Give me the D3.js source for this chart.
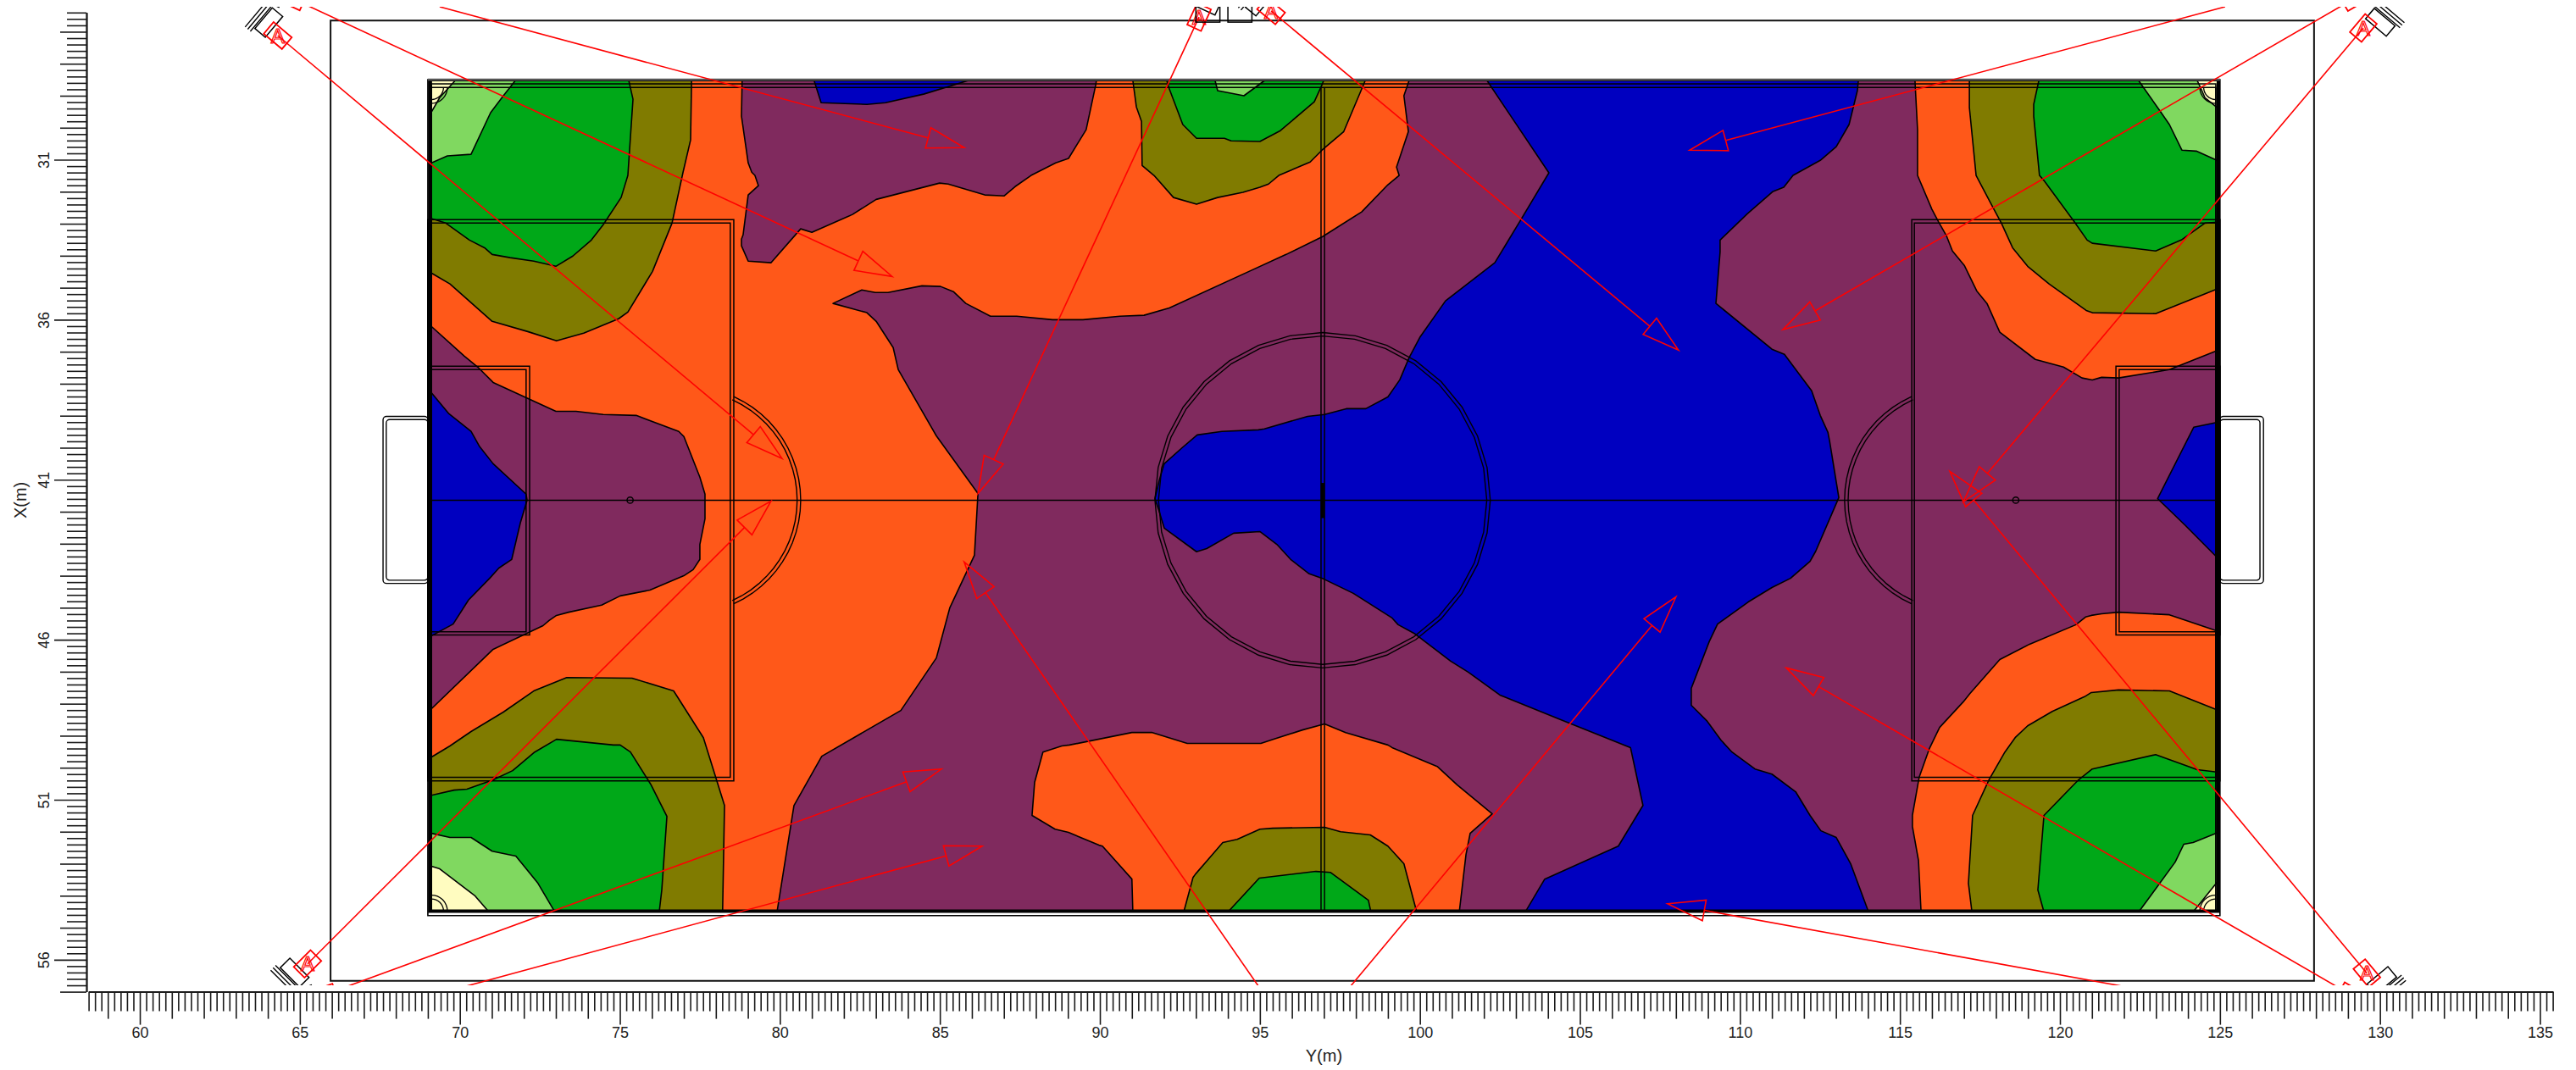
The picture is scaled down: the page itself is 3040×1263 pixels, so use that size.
<!DOCTYPE html>
<html><head><meta charset="utf-8">
<script src="https://cdn.jsdelivr.net/npm/d3@7/dist/d3.min.js"></script>
<style>html,body{margin:0;padding:0;background:#fff}svg{display:block}text{font-family:"Liberation Sans",Arial,sans-serif;fill:#222}</style>
</head><body>
<script>
// ---------- Tick labels / axis domains ----------
const xDomain=[58.4,135.4], yDomain=[26.4,57.0];
const xLabelled=[60,65,70,75,80,85,90,95,100,105,110,115,120,125,130,135];
const yLabelled=[31,36,41,46,51,56];
const xName="Y(m)", yName="X(m)";
// ---------- Contour bands (pitch metres: [Y, X]) ----------
const fieldBand=[[69.11,28.53],[124.95,28.53],[124.95,54.51],[69.11,54.51]];
const orangeLeft=[[69.11,28.53],[99.66,28.53],[99.50,29.00],[99.64,30.12],[99.27,31.23],[99.35,31.49],[99.00,31.78],[98.18,32.63],[96.96,33.40],[95.82,33.96],[94.66,34.49],[92.17,35.63],[91.38,35.86],[90.63,35.89],[89.47,36.00],[88.52,36.00],[87.40,35.89],[86.58,35.89],[85.81,35.49],[85.42,35.12],[85.02,34.96],[84.44,34.94],[83.38,35.15],[82.98,35.15],[82.56,35.07],[81.66,35.49],[82.72,35.78],[83.01,36.05],[83.54,36.87],[83.70,37.56],[84.89,39.63],[86.19,41.43],[86.08,43.36],[85.31,45.00],[84.89,46.57],[83.78,48.21],[81.31,49.64],[80.44,51.18],[79.91,54.51],[69.11,54.51]];
const purpleTop=[[78.82,28.53],[78.80,29.64],[79.01,31.10],[79.12,31.39],[79.22,31.49],[79.33,31.81],[79.01,32.10],[78.85,33.35],[78.80,33.48],[78.80,33.69],[79.01,34.17],[79.72,34.22],[80.65,33.16],[81.00,33.27],[82.27,32.71],[83.01,32.24],[84.99,31.73],[85.26,31.76],[86.40,32.10],[87.01,32.13],[87.35,31.84],[87.85,31.49],[88.62,31.10],[89.02,30.96],[89.57,30.06],[89.87,28.66],[89.89,28.53]];
const blueTop=[[81.07,28.53],[81.29,29.22],[82.72,29.27],[83.30,29.22],[84.49,28.95],[85.87,28.53]];
const purpleLeft=[[69.11,36.21],[70.14,37.14],[70.56,37.48],[71.04,37.96],[73.00,38.86],[73.63,38.86],[74.48,38.96],[75.51,38.99],[76.84,39.49],[77.00,39.65],[77.50,40.92],[77.66,41.45],[77.66,42.22],[77.50,43.02],[77.50,43.49],[77.29,43.81],[77.00,44.00],[75.94,44.45],[75.01,44.63],[74.43,44.92],[73.40,45.14],[73.02,45.24],[72.79,45.40],[72.60,45.56],[71.04,46.30],[69.11,48.16]];
const blueLeft=[[69.11,38.28],[69.66,38.94],[70.35,39.49],[70.62,39.97],[71.04,40.50],[72.07,41.45],[72.10,41.64],[71.89,42.35],[71.62,43.49],[71.22,43.76],[70.93,44.08],[70.27,44.76],[69.79,45.51],[69.11,45.88]];
const oliveTL=[[77.24,28.53],[77.21,30.38],[76.97,31.41],[76.63,32.98],[76.02,34.49],[75.25,35.76],[74.96,35.97],[73.87,36.42],[73.02,36.66],[72.12,36.37],[71.01,36.05],[69.69,34.88],[69.11,34.54],[69.11,28.53]];
const greenTL=[[75.28,28.53],[75.41,29.11],[75.25,31.49],[75.04,32.18],[74.48,33.03],[74.11,33.51],[73.53,34.01],[73.00,34.33],[72.31,34.17],[71.57,34.06],[71.01,33.96],[70.77,33.75],[70.30,33.51],[69.56,32.98],[69.11,32.84],[69.11,28.53]];
const lightTL=[[71.73,28.53],[71.36,29.00],[70.96,29.53],[70.35,30.83],[69.61,30.88],[69.11,31.10],[69.11,28.53]];
const creamTL=[[69.85,28.53],[69.37,29.06],[69.11,29.51],[69.11,28.53]];
const oliveBL=[[69.11,49.67],[69.69,49.32],[70.35,48.87],[71.36,48.26],[72.31,47.60],[73.34,47.18],[75.38,47.20],[76.68,47.60],[77.61,49.06],[78.27,51.18],[78.21,54.51],[69.11,54.51]];
const greenBL=[[69.11,50.86],[69.82,50.70],[70.22,50.67],[71.04,50.38],[71.65,50.09],[72.34,49.51],[73.02,49.11],[74.80,49.29],[75.01,49.29],[75.33,49.51],[75.96,50.51],[76.47,51.52],[76.31,53.82],[76.23,54.51],[69.11,54.51]];
const lightBL=[[69.11,52.05],[69.69,52.18],[70.35,52.18],[71.01,52.61],[71.75,52.76],[72.44,53.61],[72.97,54.51],[69.11,54.51]];
const creamBL=[[69.11,53.08],[69.37,53.16],[70.48,54.01],[70.91,54.51],[69.11,54.51]];
const oliveTop=[[91.03,28.53],[91.14,29.35],[91.30,29.80],[91.32,31.18],[91.69,31.49],[92.30,32.18],[93.02,32.39],[93.68,32.18],[94.47,32.02],[95.00,31.86],[95.27,31.76],[95.59,31.49],[96.57,31.07],[96.94,30.70],[97.62,30.12],[98.29,28.53]];
const greenTop=[[92.09,28.53],[92.17,28.79],[92.59,29.90],[93.02,30.33],[93.89,30.33],[94.10,30.41],[95.00,30.43],[95.64,30.09],[96.70,29.19],[96.94,28.66],[96.99,28.53]];
const lightTop=[[93.60,28.53],[93.68,28.84],[94.50,29.00],[95.14,28.53]];
const orangeBottom=[[88.22,49.51],[88.81,49.32],[89.05,49.29],[91.00,48.90],[91.64,48.90],[92.73,49.24],[95.03,49.24],[95.43,49.11],[96.33,48.82],[97.02,48.63],[97.68,48.90],[99.00,49.29],[99.13,49.37],[100.54,49.96],[101.17,50.54],[102.26,51.44],[101.57,52.05],[101.44,52.71],[101.23,54.51],[91.03,54.51],[91.00,53.48],[90.08,52.45],[89.97,52.42],[89.02,52.02],[88.60,51.92],[87.88,51.49],[87.96,50.46]];
const oliveBottom=[[92.62,54.51],[92.91,53.43],[92.99,53.32],[93.84,52.34],[94.29,52.24],[95.00,51.92],[95.40,51.89],[97.02,51.86],[97.52,52.00],[98.45,52.10],[99.00,52.45],[99.50,53.00],[99.90,54.51]];
const greenBottom=[[94.00,54.51],[94.98,53.45],[96.75,53.24],[97.20,53.27],[98.39,54.14],[98.47,54.51]];
const blueCentre=[[102.10,28.53],[113.70,28.53],[113.67,28.84],[113.41,29.90],[113.01,30.59],[112.51,31.02],[111.66,31.49],[111.37,31.86],[111.02,32.00],[110.23,32.69],[109.38,33.51],[109.38,33.88],[109.25,35.49],[111.00,36.92],[111.39,37.08],[112.24,38.22],[112.51,38.99],[112.75,39.52],[112.80,39.78],[113.09,41.56],[112.37,43.23],[112.19,43.55],[111.58,44.08],[111.00,44.37],[110.26,44.82],[109.30,45.51],[109.04,46.06],[108.48,47.52],[108.48,48.05],[108.98,48.55],[109.41,49.14],[109.75,49.51],[110.47,50.04],[111.00,50.20],[111.74,50.75],[112.19,51.49],[112.53,51.97],[113.01,52.18],[113.46,53.00],[114.02,54.51],[103.29,54.51],[103.90,53.48],[106.20,52.45],[106.97,51.18],[106.58,49.37],[104.40,48.50],[102.50,47.73],[101.52,47.02],[100.96,46.67],[99.85,45.82],[99.32,45.53],[99.13,45.32],[97.92,44.55],[96.99,44.10],[96.54,43.94],[95.96,43.49],[95.53,43.02],[95.00,42.62],[94.18,42.67],[93.34,43.15],[93.02,43.25],[92.01,42.51],[91.85,41.98],[91.72,41.59],[91.85,41.03],[92.01,40.50],[92.57,40.00],[93.04,39.60],[93.81,39.49],[94.95,39.44],[95.14,39.41],[96.49,39.02],[97.02,38.96],[97.70,38.78],[98.31,38.78],[99.00,38.41],[99.37,37.88],[99.66,37.19],[100.01,36.53],[100.80,35.41],[102.34,34.22],[103.11,32.95],[104.03,31.41]];
const orangeTR=[[115.47,28.53],[115.55,30.06],[115.55,31.49],[116.00,32.55],[116.21,32.95],[116.45,33.37],[116.64,33.85],[117.01,34.30],[117.40,35.10],[117.72,35.49],[118.12,36.39],[119.23,37.24],[120.11,37.48],[120.69,37.82],[121.01,37.88],[121.30,37.80],[121.83,37.82],[123.42,37.56],[124.95,36.95],[124.95,28.53]];
const oliveTR=[[117.17,28.53],[117.17,29.37],[117.38,31.49],[117.91,32.50],[118.17,32.98],[118.52,33.75],[118.99,34.33],[119.66,34.88],[120.82,35.71],[121.01,35.78],[122.99,35.81],[124.95,35.02],[124.95,28.53]];
const greenTR=[[119.34,28.53],[119.18,29.27],[119.18,29.64],[119.36,31.49],[119.50,31.65],[120.42,32.90],[120.85,33.51],[121.01,33.61],[122.99,33.85],[123.79,33.51],[124.53,32.98],[124.95,32.95],[124.95,28.53]];
const lightTR=[[122.46,28.53],[123.15,29.51],[123.42,29.90],[123.81,30.70],[124.26,30.73],[124.95,31.04],[124.95,28.53]];
const creamTR=[[124.29,28.53],[124.39,28.74],[124.53,29.06],[124.95,29.40],[124.95,28.53]];
const orangeBR=[[115.66,54.51],[115.58,52.90],[115.39,51.84],[115.39,51.49],[115.60,50.30],[115.92,49.40],[116.24,48.74],[116.98,47.94],[117.19,47.68],[118.12,46.62],[119.05,46.14],[120.50,45.53],[120.80,45.29],[120.98,45.24],[121.30,45.19],[121.83,45.14],[123.42,45.22],[124.95,45.74],[124.95,54.51]];
const oliveBR=[[117.25,54.51],[117.14,53.61],[117.27,51.49],[117.78,50.38],[118.28,49.51],[118.60,49.06],[118.99,48.69],[119.76,48.24],[120.77,47.78],[120.98,47.65],[121.83,47.57],[123.42,47.60],[124.95,48.21],[124.95,54.51]];
const greenBR=[[119.50,54.51],[119.31,53.82],[119.50,51.49],[120.58,50.38],[121.01,50.04],[122.99,49.59],[124.29,50.06],[124.95,50.14],[124.95,54.51]];
const lightBR=[[122.46,54.51],[123.60,52.95],[123.87,52.39],[124.16,52.34],[124.95,52.02],[124.95,54.51]];
const creamBR=[[124.16,54.51],[124.95,53.53],[124.95,54.51]];
const blueRight=[[124.95,39.20],[124.18,39.36],[123.05,41.59],[123.92,42.43],[124.95,43.47]];
const bandColours={purple:"#802a5e",orange:"#ff5819",olive:"#807b00",green:"#00a818",light:"#80d860",cream:"#fffcc0",blue:"#0000c0"};
const bandOrder=[[fieldBand,"purple"],[orangeLeft,"orange"],[purpleTop,"purple"],[blueTop,"blue"],[purpleLeft,"purple"],[blueLeft,"blue"],[oliveTL,"olive"],[greenTL,"green"],[lightTL,"light"],[creamTL,"cream"],[oliveBL,"olive"],[greenBL,"green"],[lightBL,"light"],[creamBL,"cream"],[oliveTop,"olive"],[greenTop,"green"],[lightTop,"light"],[orangeBottom,"orange"],[oliveBottom,"olive"],[greenBottom,"green"],[blueCentre,"blue"],[orangeTR,"orange"],[oliveTR,"olive"],[greenTR,"green"],[lightTR,"light"],[creamTR,"cream"],[orangeBR,"orange"],[oliveBR,"olive"],[greenBR,"green"],[lightBR,"light"],[creamBR,"cream"],[blueRight,"blue"]];
// ---------- Pitch markings (metres) ----------
const frame=[65.96,26.65,127.94,56.66];
const pitchRects=[[69,28.5,125,54.62,1.6],[69.11,28.63,124.87,54.48,1.5],[69.11,28.74,124.87,54.48,1.5],
 [69,32.87,78.56,50.41,1.5],[69,32.98,78.45,50.30,1.5],[69,37.45,72.18,45.85,1.5],[69,37.56,72.07,45.75,1.5],
 [115.37,32.87,125,50.41,1.5],[115.45,32.98,124.87,50.30,1.5],[121.75,37.45,125,45.85,1.5],[121.85,37.56,124.87,45.75,1.5]];
const goalRects=[[67.6,39.02,69,44.24],[67.7,39.12,69,44.14],[125,39.02,126.36,44.24],[125,39.12,126.25,44.14]];
const halfLines=[[96.91,28.74,96.91,54.48],[97.02,28.74,97.02,54.48]];
const midLine=[69.11,41.64,124.95,41.64];
const centreMark=[96.96,41.1,96.96,42.2];
const spots=[[75.32,41.64],[118.62,41.64]];
const centreCircle={x:96.96,y:41.64,radii:[5.24,5.13]};
const dArcs=[{x:77.1,y:41.64,dir:1,stop:1.46},{x:116.82,y:41.64,dir:-1,stop:1.46}];
const dRadii=[3.55,3.44];
const cornerArcs=[[69.11,28.74,1,1],[124.87,28.74,-1,1],[69.11,54.48,1,-1],[124.87,54.48,-1,-1]];
const cornerRadii=[0.5,0.38];
// ---------- Movement arrows: from [Y,X] to [Y,X] ----------
const arrows=[[64.31,27.12,80.07,40.34],[64.76,25.96,83.51,34.65],[69.37,26.22,85.76,30.62],[65.24,56.13,79.72,41.67],
 [65.75,57.1,85.05,50.04],[70.22,56.82,86.32,52.45],[94.95,56.82,85.76,43.57],[93.10,26.54,86.19,41.43],
 [95.35,26.35,108.08,36.95],[97.84,56.82,108.00,44.66],[125.16,26.22,108.43,30.70],[129.2,25.96,111.34,36.31],
 [129.48,26.88,116.98,41.69],[129.59,56.42,116.56,40.74],[129.1,57.1,111.45,46.88],[121.91,56.82,107.74,54.25]];
const markerArrows=[0,1,3,4,7,8,11,12,13,14];
const markerShift=[-5,0,-3.5,0,0,0,0,-11,8,0];
const bareCameras=[[93.0,26.0,93.75,26.7],[94.0,26.0,94.75,26.7]];

// ---------- Scales ----------
const W=3040,H=1263;
const x=d3.scaleLinear().domain(xDomain).range([104.6,3012.6]);
const y=d3.scaleLinear().domain(yDomain).range([14.8,1170.6]);
const svg=d3.select("body").append("svg").attr("width",W).attr("height",H);
const defs=svg.append("defs");
defs.append("clipPath").attr("id","pane").append("rect").attr("x",x(xDomain[0])).attr("y",8).attr("width",2920).attr("height",1155);
defs.append("clipPath").attr("id","field").append("rect").attr("x",x(69.11)).attr("y",y(28.5)).attr("width",x(125)-x(69.11)).attr("height",y(54.5)-y(28.5));

const line=d3.line().x(d=>x(d[0])).y(d=>y(d[1]));
const rectPts=r=>[[r[0],r[1]],[r[2],r[1]],[r[2],r[3]],[r[0],r[3]]];

// frame
const fr=svg.append("g");
fr.append("path").attr("d",line(rectPts(frame))+"Z").attr("fill","none").attr("stroke","#111").attr("stroke-width",2);

// contours
const cg=svg.append("g").attr("clip-path","url(#field)");
cg.selectAll("path").data(bandOrder).join("path")
  .attr("d",d=>line(d[0])+"Z").attr("fill",d=>bandColours[d[1]])
  .attr("stroke","#000").attr("stroke-width",1.6).attr("stroke-linejoin","round");

// pitch
const pg=svg.append("g").attr("fill","none").attr("stroke","#000");
pg.selectAll("rect.g").data(goalRects).join("rect").attr("class","g").attr("x",d=>x(d[0])).attr("y",d=>y(d[1]))
  .attr("width",d=>x(d[2])-x(d[0])).attr("height",d=>y(d[3])-y(d[1])).attr("rx",4).attr("stroke-width",1.4);
pg.selectAll("path.r").data(pitchRects).join("path").attr("class","r")
  .attr("d",d=>line(rectPts(d))+"Z").attr("stroke-width",d=>d[4]);
// heavy edges
pg.append("path").attr("d",line([[69.06,28.5],[69.06,54.48],[124.95,54.48],[124.95,28.5]])).attr("stroke-width",4);
pg.append("path").attr("d",line([[69.0,28.5],[125,28.5]])).attr("stroke-width",2.5).attr("stroke","#555");
pg.selectAll("path.h").data(halfLines).join("path").attr("class","h")
  .attr("d",d=>line([[d[0],d[1]],[d[2],d[3]]])).attr("stroke-width",1.5);
pg.append("path").attr("d",line([[midLine[0],midLine[1]],[midLine[2],midLine[3]]])).attr("stroke-width",1.6);
pg.append("path").attr("d",line([[centreMark[0],centreMark[1]],[centreMark[2],centreMark[3]]])).attr("stroke-width",4);
pg.selectAll("circle").data(spots).join("circle").attr("cx",d=>x(d[0])).attr("cy",d=>y(d[1])).attr("r",3.6).attr("stroke-width",1.5);
// centre circle (32-gon, as in the reference)
centreCircle.radii.forEach(r=>{
  const pts=d3.range(32).map(i=>{const a=i/32*2*Math.PI;return [centreCircle.x+r*Math.sin(a),centreCircle.y-r*Math.cos(a)];});
  pg.append("path").attr("d",line(pts)+"Z").attr("stroke-width",1.4);
});
// penalty arcs
dArcs.forEach(d=>dRadii.forEach(r=>{
  const t0=Math.acos(d.stop/dRadii[0]);
  const pts=d3.range(25).map(i=>{const a=-t0+2*t0*i/24;return [d.x+d.dir*r*Math.cos(a),d.y+r*Math.sin(a)];});
  pg.append("path").attr("d",line(pts)).attr("stroke-width",1.4);
}));
// corners
cornerArcs.forEach(c=>cornerRadii.forEach(r=>{
  const pts=d3.range(9).map(i=>{const a=i/8*Math.PI/2;return [c[0]+c[2]*r*Math.cos(a),c[1]+c[3]*r*Math.sin(a)];});
  pg.append("path").attr("d",line(pts)).attr("stroke-width",1.3);
}));

// arrows and cameras
const ag=svg.append("g").attr("clip-path","url(#pane)");
const headLen=44,headHalf=12.4;
arrows.forEach(a=>{
  const sx=x(a[0]),sy=y(a[1]),tx=x(a[2]),ty=y(a[3]);
  const len=Math.hypot(tx-sx,ty-sy),ux=(tx-sx)/len,uy=(ty-sy)/len;
  const mx=tx-ux*headLen,my=ty-uy*headLen;
  ag.append("path").attr("d",`M${sx},${sy}L${mx},${my}`).attr("stroke","#f00").attr("stroke-width",1.6).attr("fill","none");
  ag.append("path").attr("d",`M${tx},${ty}L${mx-uy*headHalf},${my+ux*headHalf}L${mx+uy*headHalf},${my-ux*headHalf}Z`)
    .attr("stroke","#f00").attr("stroke-width",1.6).attr("fill","none");
});
markerArrows.forEach((i,k)=>{
  const a=arrows[i],sx=x(a[0]),sy=y(a[1]);
  const ang=Math.atan2(y(a[3])-sy,x(a[2])-sx)*180/Math.PI;
  const m=ag.append("g").attr("transform",`translate(${sx},${sy})`);
  const r=m.append("g").attr("transform",`rotate(${ang})`).attr("fill","none");
  const s=markerShift[k];
  r.append("rect").attr("x",-26).attr("y",-16+s).attr("width",16).attr("height",32).attr("stroke","#000").attr("stroke-width",1.5);
  [-28,-32,-36].forEach(d=>r.append("line").attr("x1",d).attr("x2",d).attr("y1",-22+s).attr("y2",22+s).attr("stroke","#000").attr("stroke-width",1.4));
  r.append("rect").attr("x",-14).attr("y",-9).attr("width",28).attr("height",18).attr("stroke","#f00").attr("stroke-width",1.8);
  if(sy>8&&sy<1163) m.append("text").attr("text-anchor","middle").attr("dy","0.36em").attr("font-size",24).style("fill","none").style("stroke","#f00").attr("stroke-width",1.2).text("A");
});
ag.selectAll("rect.bare").data(bareCameras).join("rect").attr("class","bare")
  .attr("x",d=>x(d[0])).attr("y",d=>y(d[1])).attr("width",d=>x(d[2])-x(d[0])).attr("height",d=>y(d[3])-y(d[1]))
  .attr("fill","none").attr("stroke","#000").attr("stroke-width",1.5);

// axes
const eps=1e-6;
const xAll=d3.range(Math.round(xDomain[0]*5),Math.round(xDomain[1]*5)+1).map(v=>v/5);
const yAll=d3.range(Math.round(yDomain[0]*5),Math.round(yDomain[1]*5)+1).map(v=>v/5);
const isInt=v=>Math.abs(v-Math.round(v))<eps;
const xMinor=xAll.filter(v=>!isInt(v)), xMedium=xAll.filter(v=>isInt(v)&&!xLabelled.includes(Math.round(v)));
const yMinor=yAll.filter(v=>!isInt(v)), yMedium=yAll.filter(v=>isInt(v)&&!yLabelled.includes(Math.round(v)));
const style=g=>{g.selectAll("path,line").attr("stroke","#1a1a1a").attr("stroke-width",1.6);g.selectAll("text").attr("font-size",18).style("fill","#222");};
const bottom=svg.append("g").attr("transform",`translate(0,${y(yDomain[1])})`);
bottom.append("g").call(d3.axisBottom(x).tickValues(xMinor).tickSize(23).tickSizeOuter(0).tickFormat("")).call(style);
bottom.append("g").call(d3.axisBottom(x).tickValues(xMedium).tickSize(32).tickSizeOuter(0).tickFormat("")).call(style);
bottom.append("g").call(d3.axisBottom(x).tickValues(xLabelled).tickSize(39).tickSizeOuter(0).tickPadding(3).tickFormat(d3.format("d"))).call(style);
const left=svg.append("g").attr("transform",`translate(102,0)`);
left.append("g").call(d3.axisLeft(y).tickValues(yMinor).tickSize(23).tickSizeOuter(0).tickFormat("")).call(style);
left.append("g").call(d3.axisLeft(y).tickValues(yMedium).tickSize(31).tickSizeOuter(0).tickFormat("")).call(style);
const yl=left.append("g").call(d3.axisLeft(y).tickValues(yLabelled).tickSize(38).tickSizeOuter(0).tickFormat(d3.format("d"))).call(style);
yl.selectAll("text").attr("x",0).attr("dy",0).attr("text-anchor","middle").attr("transform",`translate(-44,0) rotate(-90)`);

svg.append("text").attr("text-anchor","middle").attr("font-size",20).attr("transform",`translate(${x(97)},1253)`).text(xName);
svg.append("text").attr("text-anchor","middle").attr("font-size",20).attr("transform",`translate(31,${y(41.64)}) rotate(-90)`).text(yName);
</script>
</body></html>
